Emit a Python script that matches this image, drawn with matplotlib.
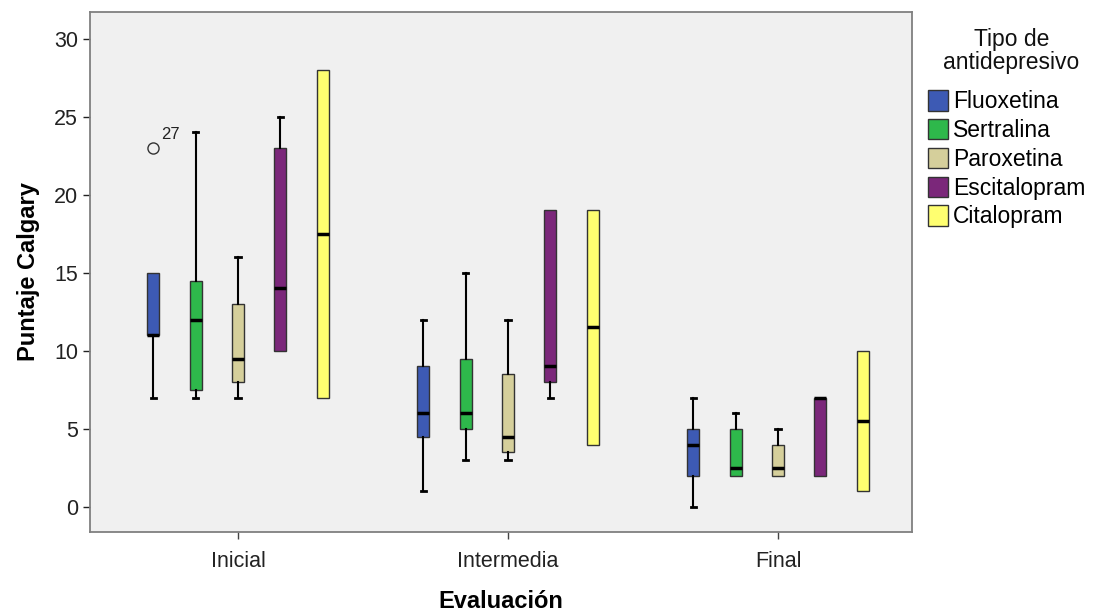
import numpy as np
import matplotlib.pyplot as plt

plt.rcParams['font.family'] = ['Liberation Sans', 'DejaVu Sans']

# Data
groups = ['Inicial', 'Intermedia', 'Final']
drugs = ['Fluoxetina', 'Sertralina', 'Paroxetina', 'Escitalopram', 'Citalopram']
colors = ['#3D5AB4', '#2EB84B', '#D5CF9B', '#7B277A', '#FFFF70']

# [group][drug]
whislo = [[7, 7, 7, 10, 7], [1, 3, 3, 7, 4], [0, 2, 2, 2, 1]]
q1 = [[11, 7.5, 8, 10, 7], [4.5, 5, 3.5, 8, 4], [2, 2, 2, 2, 1]]
med = [[11, 12, 9.5, 14, 17.5], [6, 6, 4.5, 9, 11.5], [4, 2.5, 2.5, 7, 5.5]]
q3 = [[15, 14.5, 13, 23, 28], [9, 9.5, 8.5, 19, 19], [5, 5, 4, 7, 10]]
whishi = [[15, 24, 16, 25, 28], [12, 15, 12, 19, 19], [7, 6, 5, 7, 10]]
outliers = {(0, 0): ([23], ['27'])}

fig = plt.figure(figsize=(10.94, 6.14), dpi=100)
ax = fig.add_axes([0.0823, 0.1336, 0.7513, 0.8469])
ax.set_facecolor('#F0F0F0')

offset = 0.157
for g in range(len(groups)):
    for d in range(len(drugs)):
        pos = g + (d - 2) * offset
        fl, labs = outliers.get((g, d), ([], []))
        st = dict(whislo=whislo[g][d], q1=q1[g][d], med=med[g][d],
                  q3=q3[g][d], whishi=whishi[g][d], fliers=fl)
        art = ax.bxp([st], positions=[pos], widths=0.045, patch_artist=True,
                     showfliers=True,
                     boxprops=dict(facecolor=colors[d], edgecolor='#333333', linewidth=1),
                     medianprops=dict(color='black', linewidth=2.5, solid_capstyle='butt'),
                     whiskerprops=dict(color='black', linewidth=1.5),
                     capprops=dict(color='black', linewidth=2),
                     capwidths=0.02,
                     flierprops=dict(marker='o', markerfacecolor='none',
                                     markeredgecolor='#333333', markersize=8))
        # no cap where the whisker collapses onto the box edge
        if whislo[g][d] == q1[g][d]:
            art['caps'][0].set_visible(False)
        if whishi[g][d] == q3[g][d]:
            art['caps'][1].set_visible(False)
        for v, lab in zip(fl, labs):
            ax.annotate(lab, (pos, v), xytext=(6, 6), textcoords='offset points',
                        fontsize=12, color='#222222')

ax.set_xlim(-0.548, 2.496)
ax.set_ylim(-1.6, 31.7)
ax.set_xticks(range(len(groups)))
ax.set_xticklabels(groups)
ax.set_yticks(np.arange(0, 31, 5))
ax.tick_params(axis='both', labelsize=15.5, colors='#222222', length=5, width=1)
ax.tick_params(axis='x', pad=9, color='#444444')
for sp in ax.spines.values():
    sp.set_color('#808080')
    sp.set_linewidth(1.3)

ax.set_xlabel('Evaluación', fontsize=17, fontweight='bold', labelpad=13)
ax.set_ylabel('Puntaje Calgary', fontsize=17, fontweight='bold', labelpad=10)

# legend title as separate text, entries below it
fig.text(0.9245, 1 - 28 / 614, 'Tipo de\nantidepresivo', ha='center', va='top',
         fontsize=16.5, color='#111111', linespacing=1.0)
handles = [plt.Rectangle((0, 0), 1, 1, facecolor=c, edgecolor='#333333') for c in colors]
leg = fig.legend(handles, drugs, loc='upper left',
                 bbox_to_anchor=(0.848, 1 - 90 / 614),
                 frameon=False, fontsize=16.5,
                 handlelength=0.9, handleheight=1.0, handletextpad=0.2,
                 labelspacing=0.25, borderaxespad=0, borderpad=0)

fig.savefig('out.png', dpi=100)
